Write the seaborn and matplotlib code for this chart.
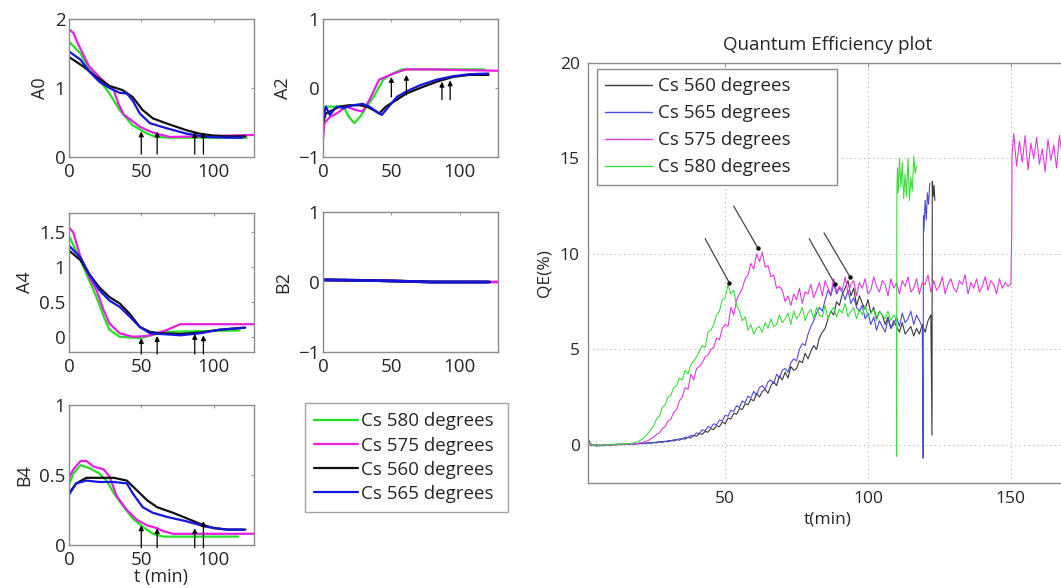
import numpy as np
import pandas as pd
import matplotlib
matplotlib.use("Agg")
import matplotlib.pyplot as plt
from matplotlib.lines import Line2D
from matplotlib.ticker import FuncFormatter
import seaborn as sns

sns.set_style("white")
plt.rcParams['font.family'] = ['Open Sans', 'DejaVu Sans']
plt.rcParams['axes.unicode_minus'] = True

# ---------------- small panels data ----------------
series_names = ["Cs 580 degrees", "Cs 575 degrees", "Cs 560 degrees", "Cs 565 degrees"]

# A0
a0_green_t = [0, 8, 14, 21, 28, 35, 44, 54, 60, 70, 90, 110, 123]
a0_green_v = [1.67, 1.5, 1.26, 1.12, 0.92, 0.68, 0.46, 0.34, 0.29, 0.28, 0.28, 0.28, 0.28]
a0_mag_t = [0, 3, 6, 14, 21, 28, 31, 34, 38, 44, 49, 55, 60, 70, 90, 110, 128]
a0_mag_v = [1.85, 1.8, 1.65, 1.31, 1.16, 1.02, 0.97, 0.78, 0.61, 0.52, 0.44, 0.38, 0.34, 0.29, 0.3, 0.31, 0.32]
a0_black_t = [0, 10, 19, 28, 37, 44, 51, 58, 67, 81, 90, 100, 110, 122]
a0_black_v = [1.45, 1.31, 1.16, 1.03, 0.97, 0.87, 0.68, 0.56, 0.49, 0.39, 0.34, 0.31, 0.3, 0.3]
a0_blue_t = [0, 8, 14, 21, 28, 35, 40, 44, 49, 56, 67, 81, 95, 110, 120]
a0_blue_v = [1.53, 1.41, 1.24, 1.09, 1.0, 0.93, 0.92, 0.82, 0.63, 0.49, 0.42, 0.34, 0.29, 0.28, 0.28]

# A2
a2_green_t = [0, 2, 10, 15, 19, 23, 27, 32, 37, 44, 51, 58, 80, 100, 118]
a2_green_v = [-0.42, -0.27, -0.27, -0.27, -0.42, -0.51, -0.42, -0.27, -0.13, 0.12, 0.21, 0.27, 0.27, 0.27, 0.27]
a2_mag_t = [0, 1, 5, 10, 17, 24, 29, 34, 41, 49, 56, 61, 80, 100, 128]
a2_mag_v = [-0.75, -0.51, -0.42, -0.37, -0.27, -0.32, -0.34, -0.17, 0.12, 0.19, 0.24, 0.27, 0.27, 0.26, 0.25]
a2_black_t = [0, 2, 7, 12, 19, 27, 32, 37, 41, 46, 54, 61, 71, 83, 95, 107, 121]
a2_black_v = [-0.51, -0.37, -0.32, -0.27, -0.25, -0.25, -0.27, -0.32, -0.37, -0.27, -0.17, -0.08, 0.0, 0.09, 0.16, 0.19, 0.19]
a2_blue_t = [0, 2, 5, 10, 15, 22, 29, 34, 39, 43, 46, 54, 61, 71, 83, 95, 107, 121]
a2_blue_v = [-0.46, -0.27, -0.39, -0.27, -0.29, -0.25, -0.23, -0.27, -0.34, -0.39, -0.32, -0.13, -0.05, 0.04, 0.12, 0.17, 0.2, 0.21]

# A4
a4_green_t = [0, 8, 14, 19, 24, 28, 35, 49, 61, 68, 90, 118]
a4_green_v = [1.45, 1.1, 0.81, 0.57, 0.29, 0.1, 0.0, -0.02, 0.04, 0.07, 0.08, 0.09]
a4_mag_t = [0, 3, 8, 14, 19, 24, 28, 35, 44, 54, 61, 68, 77, 100, 128]
a4_mag_v = [1.57, 1.5, 1.14, 0.86, 0.67, 0.38, 0.19, 0.05, 0.0, 0.01, 0.05, 0.1, 0.18, 0.18, 0.18]
a4_black_t = [0, 8, 14, 21, 28, 35, 42, 49, 56, 63, 77, 91, 104, 122]
a4_black_v = [1.24, 1.1, 0.9, 0.71, 0.57, 0.48, 0.33, 0.14, 0.07, 0.05, 0.04, 0.06, 0.1, 0.13]
a4_blue_t = [0, 8, 14, 21, 28, 35, 42, 49, 56, 63, 77, 91, 104, 121]
a4_blue_v = [1.31, 1.14, 0.9, 0.67, 0.52, 0.43, 0.29, 0.14, 0.05, 0.04, 0.02, 0.05, 0.1, 0.13]

# B2
b2_green_t = [0, 40, 80, 118]
b2_green_v = [0.03, 0.02, 0.0, 0.0]
b2_mag_t = [0, 40, 80, 128]
b2_mag_v = [0.03, 0.02, 0.0, 0.0]
b2_black_t = [0, 40, 80, 122]
b2_black_v = [0.03, 0.02, 0.0, 0.0]
b2_blue_t = [0, 40, 80, 121]
b2_blue_v = [0.03, 0.02, 0.0, 0.0]

# B4
b4_green_t = [0, 3, 8, 14, 21, 26, 31, 38, 44, 51, 58, 65, 90, 117]
b4_green_v = [0.43, 0.51, 0.57, 0.55, 0.51, 0.46, 0.37, 0.27, 0.19, 0.13, 0.08, 0.06, 0.06, 0.06]
b4_mag_t = [0, 3, 8, 12, 17, 24, 28, 33, 40, 47, 54, 61, 65, 72, 100, 128]
b4_mag_v = [0.48, 0.54, 0.6, 0.6, 0.56, 0.54, 0.49, 0.35, 0.25, 0.18, 0.14, 0.12, 0.1, 0.08, 0.08, 0.08]
b4_black_t = [0, 5, 12, 21, 31, 40, 47, 54, 61, 72, 84, 91, 100, 110, 122]
b4_black_v = [0.37, 0.44, 0.48, 0.48, 0.48, 0.46, 0.39, 0.32, 0.27, 0.23, 0.18, 0.15, 0.12, 0.11, 0.11]
b4_blue_t = [0, 5, 12, 21, 31, 40, 44, 51, 58, 68, 81, 95, 109, 121]
b4_blue_v = [0.36, 0.44, 0.46, 0.45, 0.45, 0.44, 0.37, 0.27, 0.23, 0.2, 0.17, 0.13, 0.11, 0.11]

# arrows in the small panels (time, base, tip)
arrow_t = [50, 61, 87, 93]
a0_arrow_base = [0.04, 0.04, 0.04, 0.04]
a0_arrow_tip = [0.37, 0.37, 0.36, 0.36]
a2_arrow_base = [-0.13, -0.1, -0.17, -0.17]
a2_arrow_tip = [0.16, 0.19, 0.09, 0.11]
a4_arrow_base = [-0.25, -0.25, -0.25, -0.25]
a4_arrow_tip = [-0.02, 0.01, 0.04, 0.02]
b4_arrow_base = [-0.02, -0.02, -0.02, -0.02]
b4_arrow_tip = [0.14, 0.12, 0.12, 0.17]

# ---------------- QE data (one value per minute from t = 2) ----------------
green_qe = [0.15, 0.05, -0.05, 0.0, -0.05, 0.0, -0.02, 0.02, 0.0, 0.03, 0.02, 0.05, 0.03, 0.06, 0.05, 0.08, 0.1, 0.15,
            0.2, 0.3, 0.45, 0.6, 0.8, 1.0, 1.35, 1.5, 1.95, 2.1, 2.5, 2.6, 3.0, 3.1, 3.5, 3.4,
            3.9, 3.7, 4.2, 4.4, 4.6, 4.9, 5.2, 5.1, 5.9, 6.0, 6.3, 6.8, 7.0, 7.6, 7.7, 8.4, 7.9, 8.1, 7.3,
            7.0, 6.5, 6.7, 6.0, 6.3, 5.8, 6.1, 6.2, 5.9, 6.4,
            6.1, 6.6, 6.2, 6.3, 6.8, 6.4, 6.6, 6.9, 6.3, 7.0,
            6.6, 6.8, 7.2, 6.5, 6.9, 7.1, 6.6, 7.2, 6.8, 6.7,
            7.3, 6.6, 7.0, 7.2, 6.7, 7.1, 6.9, 7.4, 6.7, 7.0,
            7.2, 6.6, 7.1, 6.8, 7.3, 6.7, 6.9, 7.1, 6.5, 7.0,
            6.8, 6.6, 7.0, 6.5, 6.8, 6.6]
green_tail_t = [110.0, 110.1, 110.3, 110.6, 111.0, 111.5, 112.0, 112.5, 113.0, 113.5, 114.0, 114.5, 115.0, 115.5, 116.0, 116.5, 117.0]
green_tail_qe = [-0.6, 13.0, 14.5, 13.2, 15.0, 13.5, 14.8, 12.9, 14.2, 13.0, 15.0, 12.8, 14.0, 13.3, 15.1, 14.2, 14.6]

blue_qe = [0.1, -0.05, 0.0, -0.08, -0.02, -0.06, 0.0, -0.04, 0.02, -0.02, 0.03, 0.0, 0.04, 0.01, 0.05, 0.03, 0.06, 0.04,
           0.08, 0.06, 0.1, 0.08, 0.12, 0.1, 0.15, 0.13, 0.18, 0.16,
           0.22, 0.2, 0.27, 0.25, 0.32, 0.3, 0.4, 0.38, 0.5, 0.48,
           0.62, 0.6, 0.78, 0.75, 0.95, 0.9, 1.1, 1.05, 1.3, 1.25,
           1.55, 1.5, 1.8, 1.75, 2.05, 1.95, 2.3, 2.2, 2.55, 2.45,
           2.8, 2.6, 3.0, 3.1, 2.9, 3.3, 3.4, 3.2, 3.7, 3.5, 3.9,
           4.0, 3.8, 4.3, 4.5, 4.4, 5.0, 5.3, 5.2, 5.8, 6.2,
           6.5, 6.9, 7.2, 7.0, 7.6,
           8.1, 7.8, 8.4, 7.9, 8.2, 8.0, 7.6, 8.1, 7.4, 7.7,
           7.2, 7.0, 7.3, 6.6, 6.9, 6.3, 6.7, 6.0, 6.5, 6.2,
           5.9, 6.6, 6.1, 6.3, 6.7, 6.2, 6.9, 6.4, 6.6, 7.0,
           6.3, 6.8, 6.5, 6.2]
blue_tail_t = [119.3, 119.4, 119.6, 120.0, 120.4, 120.8, 121.2, 121.6]
blue_tail_qe = [-0.7, 12.0, 11.2, 12.8, 11.8, 13.2, 12.6, 13.7]

black_qe = [0.3, 0.05, -0.05, 0.02, -0.06, 0.0, -0.05, 0.01, -0.03, 0.03, -0.01, 0.04, 0.0, 0.05, 0.02, 0.06, 0.03, 0.07,
            0.05, 0.09, 0.06, 0.11, 0.08, 0.13, 0.1, 0.16, 0.13, 0.19,
            0.16, 0.23, 0.2, 0.28, 0.24, 0.33, 0.3, 0.4, 0.36, 0.48,
            0.45, 0.58, 0.55, 0.7, 0.66, 0.85, 0.8, 1.0, 0.95, 1.2,
            1.1, 1.4, 1.35, 1.65, 1.6, 1.9, 1.85, 2.15, 2.1, 2.4,
            2.3, 2.7, 2.5, 2.8, 2.9, 2.7, 3.1, 3.3, 3.1, 3.6, 3.4,
            3.8, 3.5, 4.1, 3.9, 4.0, 4.4, 4.3, 4.8, 4.5, 4.9,
            5.2, 5.0, 5.6, 5.9, 6.1, 6.6, 7.0, 6.8, 7.5, 7.3, 7.9, 8.2,
            8.6, 7.8, 8.2, 7.3, 7.8, 7.4, 7.1, 7.6, 6.9, 7.2,
            6.6, 7.0, 6.8, 6.3, 6.7, 6.1, 6.5, 6.2, 5.9, 6.4,
            5.8, 6.0, 6.2, 5.7, 6.1, 5.8, 6.3, 5.9, 6.5, 6.8]
black_tail_t = [122.4, 122.5, 122.8, 123.1, 123.4]
black_tail_qe = [0.5, 13.8, 13.0, 13.6, 12.8]

mag_qe = [0.1, -0.03, 0.02, -0.04, 0.01, -0.03, 0.02, -0.02, 0.03, 0.0, 0.04, 0.01, 0.05, 0.02, 0.06, 0.04, 0.08, 0.06,
          0.1, 0.12, 0.18, 0.22, 0.32, 0.4, 0.55, 0.62, 0.85, 0.95, 1.25, 1.35, 1.7, 1.85, 2.3, 2.5,
          3.0, 2.9, 3.7, 3.4, 4.0, 4.1, 4.3, 4.6, 4.7, 5.0, 5.1, 5.6, 5.5, 6.1, 6.3, 6.2, 7.2, 6.8, 7.6, 7.9,
          8.2, 8.7, 8.9, 9.5, 9.2, 10.0, 9.6, 10.1, 9.3, 9.4, 8.8, 8.9, 8.2, 8.3,
          8.1, 7.5, 7.8, 7.3, 7.9, 7.6, 8.2, 7.4, 8.0, 7.9,
          8.4, 7.7, 8.1, 8.5, 7.8, 8.6, 8.2, 7.9, 8.7, 8.0,
          8.3, 8.1, 8.8, 7.9, 8.4, 8.6, 7.8, 8.5, 8.2, 8.7,
          7.9, 8.1, 8.8, 8.3, 8.0, 8.6, 8.4, 7.8, 8.7, 8.2,
          8.5, 7.9, 8.6, 8.3, 8.8, 8.0, 8.2, 8.7, 7.9, 8.5,
          8.4, 8.9, 8.0, 8.6, 8.1, 8.3, 8.8, 7.9, 8.4, 8.7,
          8.2, 8.0, 8.6, 8.4, 8.9, 7.9, 8.5, 8.2, 8.7, 8.0,
          8.3, 8.8, 8.1, 8.6, 8.4, 7.9, 8.7, 8.2, 8.5, 8.3,
          8.4]
mag_tail_t = [150.3, 150.4, 151, 152, 153, 154, 155, 156, 157, 158, 159, 160, 161, 162, 163, 164, 165, 166, 167, 168, 169, 170]
mag_tail_qe = [11.0, 15.2, 16.3, 14.6, 15.9, 14.8, 16.2, 14.4, 15.8, 15.0, 16.1, 14.7, 15.5, 14.3, 16.0, 14.9, 15.7, 14.5,
               16.2, 15.1, 15.6, 14.8]

green_t0, blue_t0, black_t0, mag_t0 = 2, 2, 2, 2

qe_arrow_start_t = [43, 53, 79.4, 84.6]
qe_arrow_start_v = [10.8, 12.5, 10.8, 11.1]
qe_arrow_end_t = [51.4, 61.5, 88.5, 93.7]
qe_arrow_end_v = [8.5, 10.3, 8.4, 8.8]

# ---------------- figure ----------------
W, H = 1061, 588
fig = plt.figure(figsize=(W / 100, H / 100), dpi=100)

def rect(l, r, t, b):
    return [l / W, 1 - b / H, (r - l) / W, (b - t) / H]

C_GREEN, C_MAG, C_BLACK, C_BLUE = "#22e022", "#e61ee6", "#111111", "#1515dd"
fmt = FuncFormatter(lambda v, p: ("%g" % v).replace("-", "\u2212"))
SMALL_FS = 13.5

def small_axes(r, ylabel, ylim, yticks):
    ax = fig.add_axes(rect(*r))
    ax.set_xlim(0, 128)
    ax.set_ylim(*ylim)
    ax.set_xticks([0, 50, 100])
    ax.set_yticks(yticks)
    ax.yaxis.set_major_formatter(fmt)
    ax.xaxis.set_major_formatter(fmt)
    ax.tick_params(direction="in", top=True, right=True, length=2.5, color="#999999",
                   labelsize=SMALL_FS, width=0.8)
    ax.tick_params(axis="x", pad=4.5)
    ax.tick_params(axis="y", pad=2.5)
    for s in ax.spines.values():
        s.set_color("#8c8c8c")
        s.set_linewidth(1.0)
    ax.set_ylabel(ylabel, fontsize=SMALL_FS - 0.5, labelpad=4)
    ax.set_xlabel("")
    return ax

def draw4(ax, data, lw=1.6):
    for (t, v, c) in data:
        sns.lineplot(x=t, y=v, color=c, ax=ax, lw=lw, estimator=None, sort=False, legend=False)

def arrows(ax, base, tip):
    for t, b, e in zip(arrow_t, base, tip):
        ax.annotate("", xy=(t, e), xytext=(t, b),
                    arrowprops=dict(arrowstyle="-|>", color="k", lw=0.9, mutation_scale=7,
                                    shrinkA=0, shrinkB=0), annotation_clip=False)

ax_a0 = small_axes((69, 254, 19, 157), "A0", (0, 2), [0, 1, 2])
draw4(ax_a0, [(a0_green_t, a0_green_v, C_GREEN), (a0_mag_t, a0_mag_v, C_MAG),
              (a0_black_t, a0_black_v, C_BLACK), (a0_blue_t, a0_blue_v, C_BLUE)])
arrows(ax_a0, a0_arrow_base, a0_arrow_tip)

ax_a2 = small_axes((323, 498, 19, 157), "A2", (-1, 1), [-1, 0, 1])
draw4(ax_a2, [(a2_green_t, a2_green_v, C_GREEN), (a2_mag_t, a2_mag_v, C_MAG),
              (a2_black_t, a2_black_v, C_BLACK), (a2_blue_t, a2_blue_v, C_BLUE)])
arrows(ax_a2, a2_arrow_base, a2_arrow_tip)

ax_a4 = small_axes((69, 254, 213, 352), "A4", (-0.22, 1.78), [0, 0.5, 1, 1.5])
draw4(ax_a4, [(a4_green_t, a4_green_v, C_GREEN), (a4_mag_t, a4_mag_v, C_MAG),
              (a4_black_t, a4_black_v, C_BLACK), (a4_blue_t, a4_blue_v, C_BLUE)])
arrows(ax_a4, a4_arrow_base, a4_arrow_tip)

ax_b2 = small_axes((323, 498, 212, 352), "B2", (-1, 1), [-1, 0, 1])
draw4(ax_b2, [(b2_green_t, b2_green_v, C_GREEN), (b2_mag_t, b2_mag_v, C_MAG),
              (b2_black_t, b2_black_v, C_BLACK), (b2_blue_t, b2_blue_v, C_BLUE)], lw=2.0)

ax_b4 = small_axes((69, 254, 405, 545), "B4", (0, 1), [0, 0.5, 1])
draw4(ax_b4, [(b4_green_t, b4_green_v, C_GREEN), (b4_mag_t, b4_mag_v, C_MAG),
              (b4_black_t, b4_black_v, C_BLACK), (b4_blue_t, b4_blue_v, C_BLUE)])
arrows(ax_b4, b4_arrow_base, b4_arrow_tip)
ax_b4.set_xlabel("t (min)", fontsize=SMALL_FS - 0.5, labelpad=-1)

handles = [Line2D([], [], color=c, lw=1.6) for c in (C_GREEN, C_MAG, C_BLACK, C_BLUE)]
leg1 = fig.legend(handles, series_names, loc="upper left", mode="expand",
                  bbox_to_anchor=(305 / W, 1 - 509 / H, 203 / W, 106 / H), fontsize=13.5, frameon=True,
                  fancybox=False, edgecolor="#8c8c8c", handlelength=2.3, handletextpad=0.2,
                  labelspacing=0.33, borderpad=0.5, borderaxespad=0)
leg1.get_frame().set_linewidth(1.0)

# ---------------- QE plot ----------------
ax_qe = fig.add_axes(rect(588, 1068, 63, 483))
C_QG, C_QB, C_QK, C_QM = "#3ddd3d", "#4b4bdd", "#3a3a3a", "#dd3cdd"

def qe_series(t0, vals, tail_t, tail_v):
    t = list(np.arange(t0, t0 + len(vals))) + list(tail_t)
    v = list(vals) + list(tail_v)
    return t, v

for name, t0, vals, tt, tv, c in [
        ("Cs 560 degrees", black_t0, black_qe, black_tail_t, black_tail_qe, C_QK),
        ("Cs 565 degrees", blue_t0, blue_qe, blue_tail_t, blue_tail_qe, C_QB),
        ("Cs 575 degrees", mag_t0, mag_qe, mag_tail_t, mag_tail_qe, C_QM),
        ("Cs 580 degrees", green_t0, green_qe, green_tail_t, green_tail_qe, C_QG)]:
    t, v = qe_series(t0, vals, tt, tv)
    sns.lineplot(x=t, y=v, color=c, ax=ax_qe, lw=0.8, estimator=None, sort=False, label=name)

for (x0, y0, x1, y1) in zip(qe_arrow_start_t, qe_arrow_start_v, qe_arrow_end_t, qe_arrow_end_v):
    ax_qe.annotate("", xy=(x1, y1), xytext=(x0, y0),
                   arrowprops=dict(arrowstyle="-", color="#444444", lw=0.9, shrinkA=0, shrinkB=0))
    ax_qe.plot([x1], [y1], marker="o", ms=2.2, color="#111111", zorder=5)

ax_qe.set_xlim(2, 170)
ax_qe.set_ylim(-2, 20)
ax_qe.set_xticks([50, 100, 150])
ax_qe.set_yticks([0, 5, 10, 15, 20])
ax_qe.grid(True, linestyle=(0, (1, 3)), color="#b5b5b5", lw=0.8)
ax_qe.tick_params(direction="in", top=True, right=True, length=3, color="#999999", labelsize=12.5, pad=6)
for s in ax_qe.spines.values():
    s.set_color("#8c8c8c")
    s.set_linewidth(1.0)
ax_qe.set_xlabel("t(min)", fontsize=12.5, labelpad=3)
ax_qe.set_ylabel("QE(%)", fontsize=12.5, labelpad=5)
ax_qe.set_title("Quantum Efficiency plot", fontsize=13.5, pad=9)
leg2 = ax_qe.legend(loc="upper left", mode="expand",
                    bbox_to_anchor=(597 / W, 1 - 182 / H, 240 / W, 113 / H),
                    bbox_transform=fig.transFigure, fontsize=13.5, frameon=True, fancybox=False,
                    edgecolor="#8c8c8c", handlelength=2.5, handletextpad=0.3, labelspacing=0.48,
                    borderpad=0.45, borderaxespad=0, framealpha=1)
leg2.get_frame().set_linewidth(1.0)
for l in leg2.get_lines():
    l.set_linewidth(1.0)

fig.savefig("out.png", dpi=100)
